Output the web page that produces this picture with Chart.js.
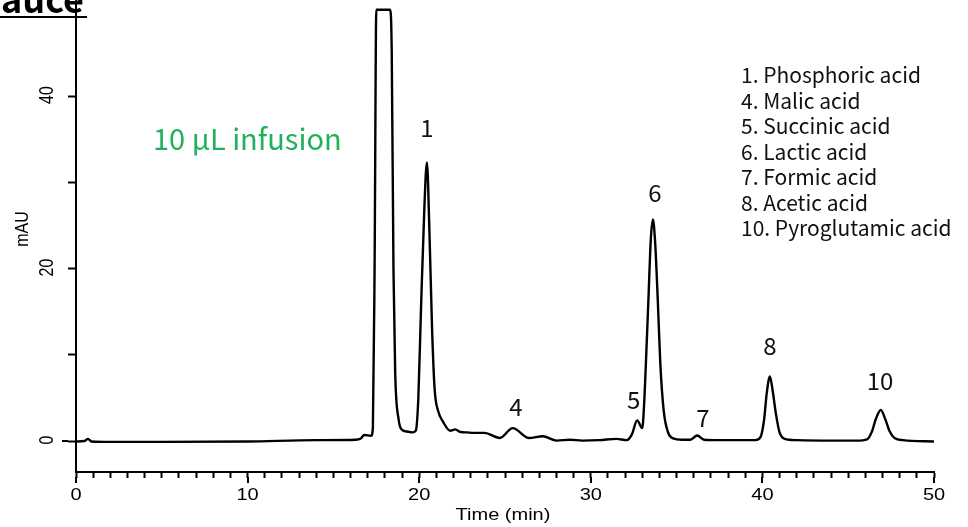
<!DOCTYPE html>
<html>
<head>
<meta charset="utf-8">
<script src="https://cdn.jsdelivr.net/npm/chart.js@4.4.1/dist/chart.umd.min.js"></script>
<style>
  html, body { margin: 0; padding: 0; background: #fff; }
  #wrap { position: relative; width: 968px; height: 527px; }
</style>
</head>
<body>
<div id="wrap"><canvas id="chrom"></canvas></div>
<script>
  // retention time (min) and absorbance (mAU)
  const times = [
    0, 0.5, 0.7, 0.9, 2, 5, 10, 14, 16.3, 16.6, 16.8, 17.2, 17.3, 17.4, 17.5,
    18.3, 18.4, 18.5, 18.6, 18.8, 19.0, 19.3, 19.6, 19.8, 19.95, 20.1, 20.3, 20.45,
    20.6, 20.75, 20.9, 21.1, 21.4, 21.8, 22.1, 22.4, 22.8, 23.1, 23.8, 24.7, 25.45,
    26.4, 27.2, 28.0, 28.8, 29.5, 30.5, 31.5, 32.1, 32.4, 32.7, 33.0, 33.1, 33.2,
    33.35, 33.5, 33.62, 33.75, 33.9, 34.05, 34.25, 34.5, 34.8, 35.3, 35.8, 36.2,
    36.6, 37.5, 39.0, 39.6, 39.9, 40.1, 40.25, 40.44, 40.6, 40.8, 41.0, 41.3, 42.0,
    44.0, 45.5, 46.1, 46.4, 46.6, 46.9, 47.15, 47.4, 47.7, 48.2, 50
  ];
  const signal = [
    -0.05, 0, 0.25, -0.05, -0.1, -0.1, -0.05, 0.1, 0.15, 0.3, 0.7, 0.6, 1.5, 20, 50,
    50, 45, 20, 8, 2.5, 1.3, 1.1, 1.0, 1.2, 5, 15, 27, 32.3,
    24, 13, 6, 3.5, 2.2, 1.2, 1.35, 1.05, 1.0, 0.95, 0.95, 0.35, 1.5,
    0.35, 0.55, 0.05, 0.15, 0.05, 0.1, 0.25, 0.1, 0.8, 2.4, 1.5, 4, 8.5,
    16, 23.5, 25.7, 23, 16.5, 9, 3.5, 1.0, 0.3, 0.15, 0.15, 0.65,
    0.15, 0.1, 0.1, 0.1, 0.5, 2.5, 5.5, 7.5, 5.8, 3.0, 1.0, 0.25, 0.1,
    0.05, 0.05, 0.2, 1.2, 2.5, 3.6, 2.6, 1.2, 0.35, 0.1, -0.05
  ];

  const xMin = 0, xMax = 50;
  const yMin = -3.59, yMax = 51.13;
  const yTickValues = [0, 10, 20, 30, 40];
  const yTickLabels = ['0', '', '20', '', '40'];
  const xMajorValues = [0, 10, 20, 30, 40, 50];
  const xMajorLabels = ['0', '10', '20', '30', '40', '50'];

  const peakNames = ['1', '4', '5', '6', '7', '8', '10'];
  const peakLabelTimes = [20.45, 25.64, 32.5, 33.74, 36.54, 40.44, 46.85];
  const peakLabelLevels = [35.2, 2.9, 3.7, 27.7, 1.6, 10.0, 5.9];

  const compounds = [
    '1. Phosphoric acid',
    '4. Malic acid',
    '5. Succinic acid',
    '6. Lactic acid',
    '7. Formic acid',
    '8. Acetic acid',
    '10. Pyroglutamic acid'
  ];

  const axisFont = '"Liberation Sans", Arial, sans-serif';
  const noteFont = '"Noto Sans CJK JP", "Noto Sans", sans-serif';
  const stretch = 1.25; // the axis lettering in the source is drawn wide

  const overlay = {
    id: 'overlay',
    afterDraw(chart) {
      const { ctx, scales: { x, y } } = chart;
      ctx.save();
      ctx.fillStyle = '#000';
      ctx.strokeStyle = '#000';

      // longer major ticks
      ctx.lineWidth = 2;
      ctx.beginPath();
      xMajorValues.forEach(v => {
        const px = Math.round(x.getPixelForValue(v));
        ctx.moveTo(px, y.bottom + 5);
        ctx.lineTo(px, y.bottom + 11);
      });
      const y0 = Math.round(y.getPixelForValue(0));
      ctx.moveTo(x.left - 8, y0);
      ctx.lineTo(x.left - 14, y0);
      ctx.stroke();

      // x tick labels
      ctx.font = '16px ' + axisFont;
      ctx.textAlign = 'center';
      ctx.textBaseline = 'alphabetic';
      xMajorValues.forEach((v, i) => {
        ctx.save();
        ctx.translate(x.getPixelForValue(v), 500);
        ctx.scale(stretch, 1);
        ctx.fillText(xMajorLabels[i], 0, 0);
        ctx.restore();
      });

      // y tick labels, rotated
      ctx.textBaseline = 'middle';
      yTickValues.forEach((v, i) => {
        if (!yTickLabels[i]) return;
        ctx.save();
        ctx.translate(47, y.getPixelForValue(v) - 1);
        ctx.scale(stretch, 1);
        ctx.rotate(-Math.PI / 2);
        ctx.fillText(yTickLabels[i], 0, 0);
        ctx.restore();
      });

      // axis titles
      ctx.font = '16px ' + axisFont;
      ctx.save();
      ctx.translate(23, 229);
      ctx.scale(1.1, 1);
      ctx.rotate(-Math.PI / 2);
      ctx.fillText('mAU', 0, 0);
      ctx.restore();
      ctx.save();
      ctx.translate(503, 516);
      ctx.scale(stretch, 1);
      ctx.fillText('Time (min)', 0, 0);
      ctx.restore();

      // peak numbers
      ctx.fillStyle = '#111';
      ctx.font = '24px ' + noteFont;
      ctx.textAlign = 'center';
      ctx.textBaseline = 'alphabetic';
      peakNames.forEach((name, i) => {
        ctx.fillText(name, x.getPixelForValue(peakLabelTimes[i]), y.getPixelForValue(peakLabelLevels[i]));
      });

      // compound list
      ctx.font = '21px ' + noteFont;
      ctx.textAlign = 'left';
      compounds.forEach((c, i) => {
        ctx.fillText(c, 741, 83 + i * 25.5);
      });

      // injection note
      ctx.fillStyle = '#1fb25a';
      ctx.font = '29px ' + noteFont;
      ctx.fillText('10 \u00b5L infusion', 153, 150);

      // clipped heading in the corner
      ctx.fillStyle = '#000';
      ctx.font = 'bold 36px ' + noteFont;
      ctx.textAlign = 'right';
      ctx.fillText('auce', 84, 13);
      ctx.fillRect(0, 16, 87, 2);

      ctx.restore();
    }
  };

  new Chart(document.getElementById('chrom'), {
    type: 'line',
    data: {
      datasets: [{
        data: times.map((t, i) => ({ x: t, y: signal[i] })),
        borderColor: '#000',
        borderWidth: 2.4,
        pointRadius: 0,
        cubicInterpolationMode: 'monotone',
        fill: false
      }]
    },
    options: {
      responsive: true,
      maintainAspectRatio: false,
      animation: false,
      layout: { padding: { left: 0, right: 34, top: 0, bottom: 0 } },
      plugins: { legend: { display: false }, tooltip: { enabled: false } },
      scales: {
        x: {
          type: 'linear',
          min: xMin,
          max: xMax,
          afterFit: s => { s.height = 55; },
          border: { display: true, color: '#000', width: 2 },
          grid: { drawOnChartArea: false, drawTicks: true, tickLength: 6, tickColor: '#000', tickWidth: 2 },
          ticks: {
            stepSize: 1,
            maxTicksLimit: 100,
            autoSkip: false,
            maxRotation: 0,
            color: 'rgba(0,0,0,0)',
            font: { family: axisFont, size: 16 },
            callback: () => ''
          }
        },
        y: {
          type: 'linear',
          min: yMin,
          max: yMax,
          afterFit: s => { s.width = 76; },
          afterBuildTicks: s => { s.ticks = yTickValues.map(v => ({ value: v })); },
          border: { display: true, color: '#000', width: 2 },
          grid: { drawOnChartArea: false, drawTicks: true, tickLength: 8, tickColor: '#000', tickWidth: 2 },
          ticks: { display: false }
        }
      }
    },
    plugins: [overlay]
  });
</script>
</body>
</html>
